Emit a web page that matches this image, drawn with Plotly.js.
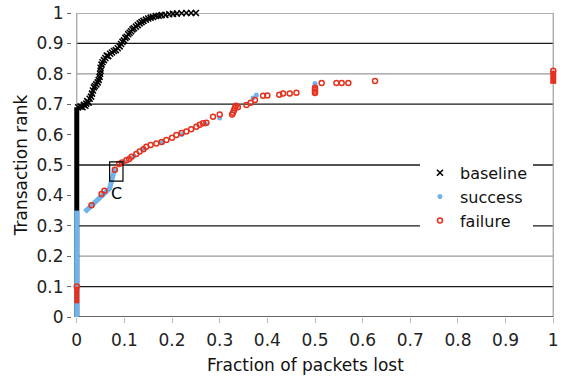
<!DOCTYPE html>
<html><head><meta charset="utf-8">
<script src="https://cdn.plot.ly/plotly-3.0.1.min.js"></script>
<style>html,body{margin:0;padding:0;background:#fff}#chart{width:565px;height:381px}</style>
</head><body><div id="chart"></div>
<script>
// ---- data ----
const baselineX = [0.003,0.008,0.012,0.015,0.018,0.02,0.022,0.025,0.027,0.03,0.032,0.034,0.036,0.038,0.041,0.044,0.046,0.048,0.049,0.05,0.05,0.052,0.054,0.057,0.06,0.063,0.066,0.07,0.074,0.078,0.082,0.086,0.09,0.093,0.096,0.099,0.102,0.105,0.108,0.111,0.114,0.117,0.12,0.124,0.128,0.132,0.136,0.14,0.145,0.15,0.155,0.16,0.166,0.172,0.178,0.186,0.194,0.202,0.21,0.22,0.23,0.24,0.25];
const baselineY = [0.69,0.692,0.69,0.698,0.695,0.702,0.71,0.705,0.718,0.725,0.735,0.745,0.755,0.76,0.765,0.772,0.78,0.79,0.8,0.81,0.82,0.83,0.838,0.845,0.852,0.86,0.858,0.866,0.87,0.875,0.878,0.884,0.89,0.898,0.905,0.91,0.918,0.922,0.93,0.935,0.94,0.946,0.95,0.955,0.96,0.966,0.97,0.974,0.978,0.982,0.985,0.987,0.99,0.991,0.993,0.994,0.996,0.997,0.998,0.999,1.0,1.0,1.0];
// dense column of baseline points at x = 0
const baselineColX = [0, 0];
const baselineColY = [0.0, 0.69];

// success: dense column at x = 0, dense band, then scattered points
const successColX = [0, 0];
const successColY = [0.0, 0.35];
const successBandX = [0.017, 0.069, 0.08];
const successBandY = [0.346, 0.423, 0.49];
const successX = [0.1,0.12,0.14,0.18,0.22,0.27,0.3,0.37,0.377,0.5,0.5];
const successY = [0.51,0.53,0.55,0.575,0.6,0.635,0.655,0.72,0.73,0.76,0.768];

// failure: dense columns at x = 0 and x = 1, then scattered circles
const failureColX = [0, 0];
const failureColY = [0.045, 0.1];
const failureEndX = [1, 1];
const failureEndY = [0.767, 0.81];
const failureX = [0,0.031,0.052,0.058,0.08,0.089,0.095,0.104,0.11,0.115,0.125,0.132,0.14,0.146,0.155,0.167,0.178,0.188,0.2,0.209,0.22,0.23,0.24,0.251,0.258,0.265,0.272,0.286,0.3,0.326,0.328,0.33,0.332,0.334,0.338,0.356,0.365,0.374,0.391,0.4,0.425,0.433,0.447,0.461,0.5,0.5,0.5,0.5,0.514,0.545,0.556,0.57,0.626,1];
const failureY = [0.1,0.368,0.405,0.415,0.484,0.503,0.508,0.516,0.52,0.527,0.536,0.544,0.552,0.56,0.566,0.571,0.576,0.582,0.59,0.599,0.605,0.61,0.618,0.626,0.632,0.637,0.639,0.659,0.666,0.666,0.672,0.68,0.688,0.695,0.69,0.697,0.705,0.714,0.728,0.729,0.731,0.735,0.735,0.738,0.737,0.742,0.748,0.754,0.77,0.77,0.77,0.77,0.776,0.81];

const darkGrid = [0.1,0.3,0.5,0.7,0.9];
const lightGrid = [0.2,0.8,1.0];
const tickVals = [0,0.1,0.2,0.3,0.4,0.5,0.6,0.7,0.8,0.9,1];
const tickText = ['0','0.1','0.2','0.3','0.4','0.5','0.6','0.7','0.8','0.9','1'];

const BLACK = '#000000', BLUE = '#6fb4ee', RED = '#e5321f';
const FAM = 'DejaVu Sans, Verdana, sans-serif';

const traces = [
  {x: baselineColX, y: baselineColY, mode: 'lines', line: {color: BLACK, width: 5}, showlegend: false, hoverinfo: 'skip'},
  {x: baselineX, y: baselineY, mode: 'markers', name: 'baseline', cliponaxis: false,
   marker: {symbol: 'x-thin', size: 6, color: BLACK, line: {color: BLACK, width: 1.6}}},
  {x: successColX, y: successColY, mode: 'lines', line: {color: BLUE, width: 5}, showlegend: false, hoverinfo: 'skip'},
  {x: successBandX, y: successBandY, mode: 'lines', line: {color: BLUE, width: 5}, showlegend: false, hoverinfo: 'skip'},
  {x: successX, y: successY, mode: 'markers', name: 'success', cliponaxis: false,
   marker: {symbol: 'circle', size: 5, color: BLUE}},
  {x: failureColX, y: failureColY, mode: 'lines', line: {color: RED, width: 5}, showlegend: false, hoverinfo: 'skip'},
  {x: failureEndX, y: failureEndY, mode: 'lines', line: {color: RED, width: 6}, showlegend: false, hoverinfo: 'skip'},
  {x: failureX, y: failureY, mode: 'markers', name: 'failure', cliponaxis: false,
   marker: {symbol: 'circle-open', size: 5, color: RED, line: {color: RED, width: 1.5}}}
];

const shapes = [];
darkGrid.forEach(v => shapes.push({type: 'line', xref: 'x', yref: 'y', x0: 0, x1: 1, y0: v, y1: v, layer: 'below', line: {color: '#1a1a1a', width: 1.3}}));
lightGrid.forEach(v => shapes.push({type: 'line', xref: 'x', yref: 'y', x0: 0, x1: 1, y0: v, y1: v, layer: 'below', line: {color: '#9a9a9a', width: 1.3}}));
// plot frame: left (gray), right (gray), bottom axis (dark)
shapes.push({type: 'line', xref: 'x', yref: 'y', x0: 0, x1: 0, y0: 0, y1: 1, layer: 'below', line: {color: '#a0a0a0', width: 1.2}});
shapes.push({type: 'line', xref: 'x', yref: 'y', x0: 1, x1: 1, y0: 0, y1: 1, layer: 'below', line: {color: '#a0a0a0', width: 1.2}});
shapes.push({type: 'line', xref: 'x', yref: 'y', x0: 0, x1: 1, y0: 0, y1: 0, layer: 'below', line: {color: '#333', width: 1.4}});
shapes.push({type: 'rect', xref: 'x', yref: 'y', x0: 0.069, x1: 0.097, y0: 0.447, y1: 0.51, line: {color: '#000', width: 1.2}});

const layout = {
  width: 565, height: 381,
  margin: {l: 72, r: 7, t: 13, b: 64},
  paper_bgcolor: '#fff', plot_bgcolor: '#fff',
  font: {family: FAM, size: 16, color: '#222'},
  showlegend: true,
  legend: {x: 0.716, y: 0.53, xanchor: 'left', yanchor: 'top', bgcolor: '#fff', borderwidth: 0,
           font: {family: FAM, size: 16, color: '#111'}, itemwidth: 30, tracegroupgap: 0},
  xaxis: {range: [-0.01, 1.01], tickvals: tickVals, ticktext: tickText, showgrid: false, zeroline: false,
          showline: false, ticks: 'outside', ticklen: 5, tickcolor: '#bbb', ticklabelstandoff: 3,
          tickfont: {family: FAM, size: 17, color: '#222'}},
  yaxis: {range: [0, 1], tickvals: tickVals, ticktext: tickText, showgrid: false, zeroline: false,
          showline: false, ticks: 'outside', ticklen: 4, tickcolor: '#666',
          tickfont: {family: FAM, size: 17, color: '#222'},
          title: {text: 'Transaction rank', font: {family: FAM, size: 17, color: '#111'}, standoff: 4}},
  shapes: shapes,
  annotations: [
    {x: 0.083, y: 0.405, xref: 'x', yref: 'y', text: 'C', showarrow: false,
     font: {family: FAM, size: 16, color: '#000'}},
    {x: 0.481, y: 365, xref: 'paper', yref: 'paper', yanchor: 'middle', xanchor: 'center', text: 'Fraction of packets lost', showarrow: false,
     font: {family: FAM, size: 17, color: '#111'}}
  ]
};
// place the x-axis title 365px from the top of the page
layout.annotations[1].y = -((365 - (381 - 64)) / (381 - 64 - 13));

Plotly.newPlot('chart', traces, layout, {staticPlot: true});
</script></body></html>
